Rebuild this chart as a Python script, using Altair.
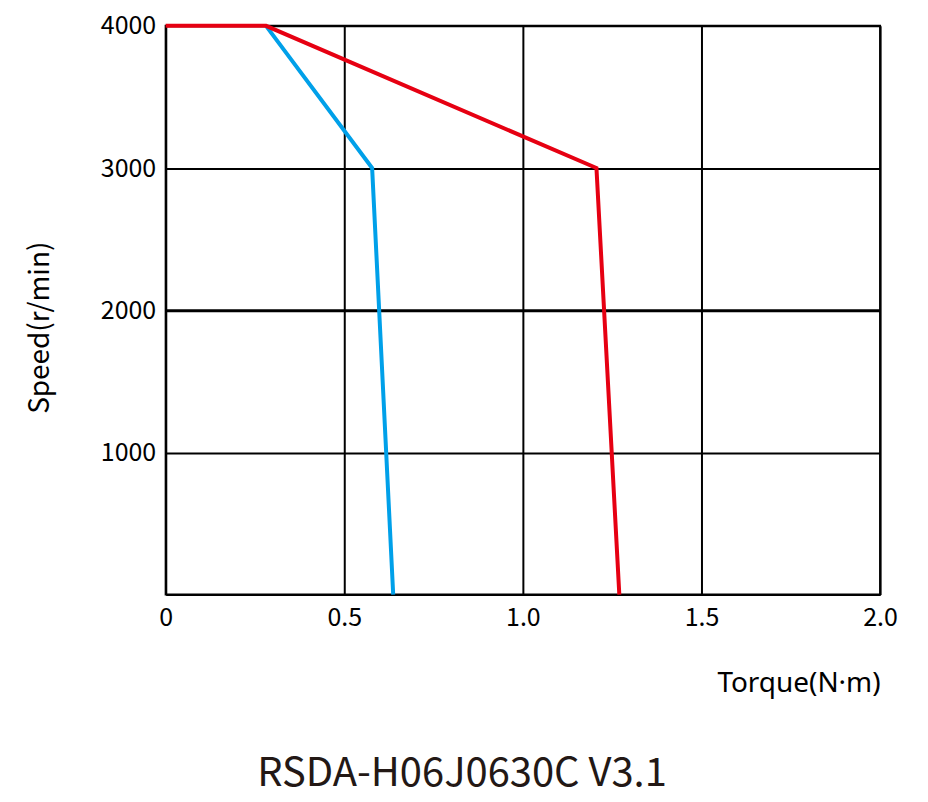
import altair as alt
import pandas as pd

# Data
red_torque = [0.0, 0.281, 1.206, 1.27]
red_speed = [4000, 4000, 3000, 0]
blue_torque = [0.281, 0.578, 0.637]
blue_speed = [4000, 3000, 0]

x_ticks = [0, 0.5, 1.0, 1.5, 2.0]
y_ticks = [1000, 2000, 3000, 4000]

FONT = "Noto Sans CJK SC"
LATIN = "Noto Sans"

rows = []
for i, (t, s) in enumerate(zip(blue_torque, blue_speed)):
    rows.append({"series": "blue", "order": i, "torque": t, "speed": s})
for i, (t, s) in enumerate(zip(red_torque, red_speed)):
    rows.append({"series": "red", "order": i, "torque": t, "speed": s})
df = pd.DataFrame(rows)

common_axis = dict(
    ticks=False,
    grid=True,
    gridColor="#000000",
    gridOpacity=1,
    domainColor="#000000",
    domainWidth=2,
    labelFlush=False,
    labelFont=FONT,
    labelFontSize=25,
    labelColor="#000000",
    titleFontSize=28,
    titleFontWeight="normal",
    titleColor="#000000",
)

x_enc = alt.X(
    "torque:Q",
    scale=alt.Scale(domain=[0, 2], nice=False, zero=True),
    axis=alt.Axis(
        values=x_ticks,
        labelExpr="datum.value == 0 ? '0' : format(datum.value, '.1f')",
        title="Torque(N·m)",
        titleFont=LATIN,
        titleAnchor="end",
        titleAlign="right",
        titleX=716,
        titleY=97,
        titleBaseline="alphabetic",
        labelPadding=11,
        gridWidth=2,
        **common_axis,
    ),
)
y_enc = alt.Y(
    "speed:Q",
    scale=alt.Scale(domain=[0, 4000], nice=False),
    axis=alt.Axis(
        values=y_ticks,
        format="d",
        title="Speed(r/min)",
        titleFont=FONT,
        titleAngle=-90,
        titleAlign="center",
        titleBaseline="middle",
        titleX=-125,
        titleY=302,
        labelPadding=10,
        gridWidth=alt.condition(alt.datum.value == 2000, alt.value(3), alt.value(2)),
        **common_axis,
    ),
)

blue = alt.Chart(df).transform_filter(alt.datum.series == "blue").mark_line(
    color="#00A0E9", strokeWidth=4, clip=False
).encode(x=x_enc, y=y_enc, order="order:Q")

red = alt.Chart(df).transform_filter(alt.datum.series == "red").mark_line(
    color="#E60012", strokeWidth=4, clip=False
).encode(x=x_enc, y=y_enc, order="order:Q")

chart = alt.layer(blue, red).properties(
    width=716,
    height=570,
    autosize=alt.AutoSizeParams(type="none"),
    padding={"left": 158, "top": 17, "right": 40, "bottom": 215},
    title=alt.TitleParams(
        text="RSDA-H06J0630C V3.1",
        orient="bottom",
        anchor="middle",
        dx=-61,
        offset=57,
        font=FONT,
        fontSize=40,
        fontWeight="normal",
        color="#231815",
    ),
).configure(
    background="white"
).configure_view(
    stroke="#000000", strokeWidth=2
)

chart.save("out.html", embed_options={"renderer": "svg", "actions": False})
